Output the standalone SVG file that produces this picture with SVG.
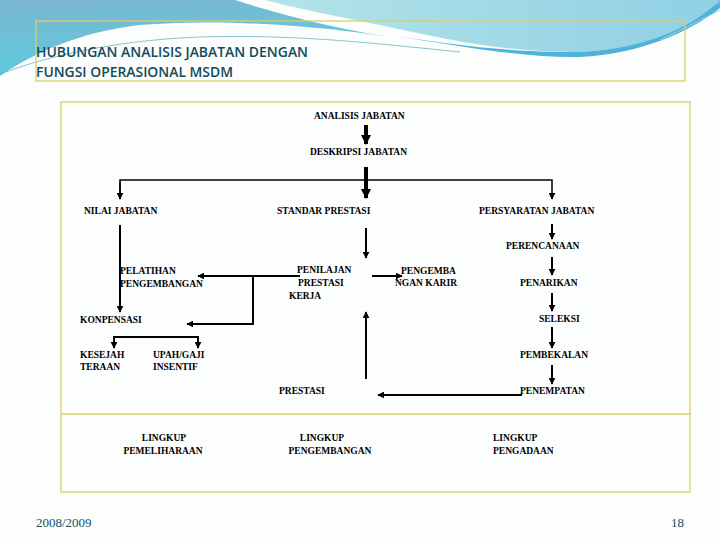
<svg xmlns="http://www.w3.org/2000/svg" width="720" height="540" viewBox="0 0 720 540">
<defs>
<linearGradient id="gLeft" x1="0" y1="0" x2="0.3" y2="1">
<stop offset="0" stop-color="#7cb6d2"/>
<stop offset="1" stop-color="#5ccbdc"/>
</linearGradient>
<linearGradient id="gCyan" x1="0" y1="0" x2="1" y2="0">
<stop offset="0" stop-color="#b4e4ea"/>
<stop offset="1" stop-color="#8fcfe4"/>
</linearGradient>
<marker id="ah" viewBox="0 0 10 10" refX="9" refY="5" markerWidth="7" markerHeight="7" markerUnits="userSpaceOnUse" orient="auto">
<path d="M0 0 L10 5 L0 10 Z" fill="#000"/>
</marker>
<marker id="ahB" viewBox="0 0 10 10" refX="9" refY="5" markerWidth="10" markerHeight="10" markerUnits="userSpaceOnUse" orient="auto">
<path d="M0 0 L10 5 L0 10 Z" fill="#000"/>
</marker>
</defs>
<style>
.t{font-family:"Liberation Serif","Times New Roman",serif;font-weight:bold;font-size:9.5px;fill:#000}
.ttl{font-family:"Open Sans","Liberation Sans",sans-serif;font-weight:600;font-size:13.5px;fill:#134a58}
.ft{font-family:"Liberation Serif","Times New Roman",serif;font-size:13px;fill:#17505e}
.c{stroke:#000;stroke-width:2;fill:none}
.cb{stroke:#000;stroke-width:4;fill:none}
.ln{stroke:#000;stroke-width:1.5;fill:none}
.box{fill:none;stroke:#d9d264;stroke-width:1.3}
</style>
<rect x="0" y="0" width="720" height="540" fill="#fcfdfd"/>
<g id="background">
<path d="M0 0 L235 0 C290 18 345 30 405 40 C330 26 220 18 140 25 C80 32 35 52 0 76 Z" fill="url(#gLeft)"/>
<path d="M265 0 L720 0 L720 6 C690 30 640 50 575 52 C500 52 440 38 380 25 C330 15 295 8 265 0 Z" fill="url(#gCyan)"/>
<path d="M395 36 C470 48 530 58 580 57 C640 54 690 32 720 8 L720 0 C690 30 640 50 575 52 C500 52 450 44 395 36 Z" fill="#4fb2d8"/>
<path d="M0 74 C50 55 120 40 200 37 C300 34 380 44 460 52" stroke="#5aa8b8" stroke-width="1" fill="none" opacity="0.7"/>
<path d="M640 35 C670 25 700 12 720 2 M660 40 C685 28 705 18 720 10" stroke="#9fd3e6" stroke-width="1" fill="none"/>
</g>
<g id="title">
<rect class="box" x="36" y="21" width="649" height="60"/>
<text class="ttl" x="36" y="57" textLength="272" lengthAdjust="spacingAndGlyphs">HUBUNGAN ANALISIS JABATAN DENGAN</text>
<text class="ttl" x="36" y="77" textLength="197" lengthAdjust="spacingAndGlyphs">FUNGSI OPERASIONAL MSDM</text>
</g>
<g id="frame">
<rect class="box" x="61" y="102" width="629" height="390"/>
<line class="box" x1="61" y1="414" x2="690" y2="414"/>
</g>
<g id="connectors">
<line class="cb" x1="366" y1="125" x2="366" y2="144" marker-end="url(#ahB)"/>
<line class="cb" x1="366" y1="167" x2="366" y2="198" marker-end="url(#ahB)"/>
<polyline class="ln" points="120,199 120,180 552,180 552,199" marker-end="url(#ah)"/>
<line class="ln" x1="120" y1="182" x2="120" y2="199" marker-end="url(#ah)"/>
<line class="c" x1="120" y1="225" x2="120" y2="312" marker-end="url(#ah)"/>
<line class="c" x1="366" y1="228" x2="366" y2="258" marker-end="url(#ah)"/>
<line class="c" x1="552" y1="224" x2="552" y2="239" marker-end="url(#ah)"/>
<line class="c" x1="552" y1="257" x2="552" y2="275" marker-end="url(#ah)"/>
<line class="c" x1="552" y1="293" x2="552" y2="311" marker-end="url(#ah)"/>
<line class="c" x1="552" y1="327" x2="552" y2="348" marker-end="url(#ah)"/>
<line class="c" x1="552" y1="365" x2="552" y2="384" marker-end="url(#ah)"/>
<line class="c" x1="522" y1="395" x2="378" y2="395" marker-end="url(#ah)"/>
<line class="c" x1="366" y1="379" x2="366" y2="312" marker-end="url(#ah)"/>
<line class="c" x1="300" y1="276" x2="198" y2="276" marker-end="url(#ah)"/>
<polyline class="c" points="253,276 253,324 187,324" marker-end="url(#ah)"/>
<line class="c" x1="372" y1="276" x2="402" y2="276" marker-end="url(#ah)"/>
<polyline class="c" points="114,348 114,337 198,337 198,348" marker-end="url(#ah)"/>
<line class="c" x1="114" y1="339" x2="114" y2="348" marker-end="url(#ah)"/>
</g>
<g id="analisis-jabatan"><text class="t" x="314" y="119">ANALISIS JABATAN</text></g>
<g id="deskripsi-jabatan"><text class="t" x="310" y="155">DESKRIPSI JABATAN</text></g>
<g id="nilai-jabatan"><text class="t" x="84" y="214">NILAI JABATAN</text></g>
<g id="standar-prestasi"><text class="t" x="277" y="214">STANDAR PRESTASI</text></g>
<g id="persyaratan-jabatan"><text class="t" x="479" y="214">PERSYARATAN JABATAN</text></g>
<g id="perencanaan"><text class="t" x="506" y="249">PERENCANAAN</text></g>
<g id="pelatihan"><text class="t" x="120" y="274">PELATIHAN</text><text class="t" x="120" y="287">PENGEMBANGAN</text></g>
<g id="penilaian"><text class="t" x="297" y="273">PENILAJAN</text><text class="t" x="298" y="286">PRESTASI</text><text class="t" x="289" y="299">KERJA</text></g>
<g id="karir"><text class="t" x="401" y="274">PENGEMBA</text><text class="t" x="395" y="286">NGAN KARIR</text></g>
<g id="penarikan"><text class="t" x="520" y="286">PENARIKAN</text></g>
<g id="konpensasi"><text class="t" x="80" y="323">KONPENSASI</text></g>
<g id="seleksi"><text class="t" x="539" y="322">SELEKSI</text></g>
<g id="kesejahteraan"><text class="t" x="80" y="358">KESEJAH</text><text class="t" x="80" y="370">TERAAN</text></g>
<g id="upah"><text class="t" x="153" y="358">UPAH/GAJI</text><text class="t" x="153" y="370">INSENTIF</text></g>
<g id="pembekalan"><text class="t" x="520" y="358">PEMBEKALAN</text></g>
<g id="prestasi"><text class="t" x="279" y="394">PRESTASI</text></g>
<g id="penempatan"><text class="t" x="520" y="394">PENEMPATAN</text></g>
<g id="lingkup-pemeliharaan"><text class="t" x="164" y="441" text-anchor="middle">LINGKUP</text><text class="t" x="163" y="454" text-anchor="middle">PEMELIHARAAN</text></g>
<g id="lingkup-pengembangan"><text class="t" x="322" y="441" text-anchor="middle">LINGKUP</text><text class="t" x="330" y="454" text-anchor="middle">PENGEMBANGAN</text></g>
<g id="lingkup-pengadaan"><text class="t" x="493" y="441">LINGKUP</text><text class="t" x="493" y="454">PENGADAAN</text></g>
<g id="footer">
<text class="ft" x="36" y="527">2008/2009</text>
<text class="ft" x="684" y="527" text-anchor="end">18</text>
</g>
</svg>
